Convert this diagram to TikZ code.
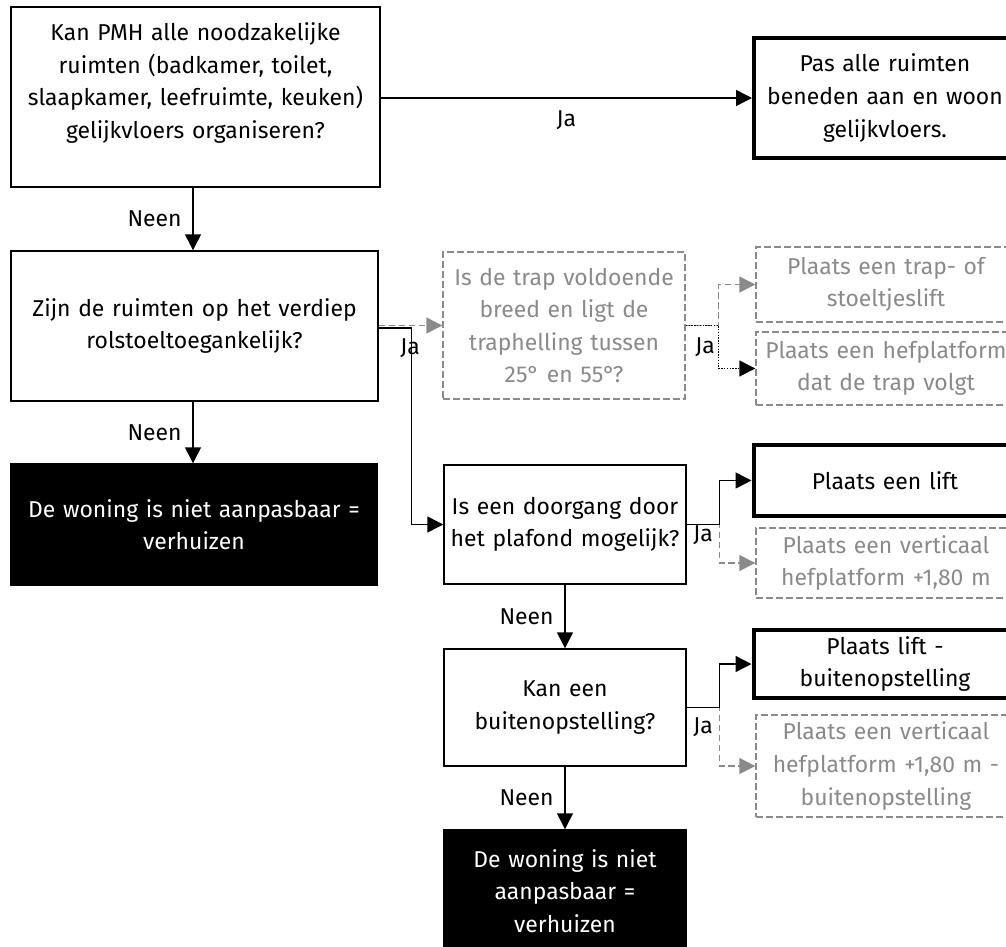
\documentclass[tikz,border=0pt]{standalone}
\usepackage{fontspec}
\setmainfont{Fira Sans}
\usetikzlibrary{arrows.meta}

\definecolor{faded}{HTML}{8A8A8A}

\tikzset{
  box/.style={draw,line width=1.1pt,align=center,inner sep=0pt,
    font=\fontsize{17.2}{24.4}\selectfont},
  stopbox/.style={box,fill=black,text=white},
  endbox/.style={box,line width=3pt},
  ghostbox/.style={box,draw=faded,text=faded,line width=1.1pt,
    dash pattern=on 5pt off 2.5pt},
  link/.style={line width=1.1pt,-{Triangle[length=12pt,width=12pt]}},
  ghostlink/.style={link,draw=faded,dash pattern=on 5pt off 2.5pt,
    -{Triangle[length=12pt,width=12pt,fill=faded]}},
  tag/.style={font=\fontsize{17.2}{20}\selectfont,inner sep=0pt}
}

\begin{document}
\begin{tikzpicture}[x=0.75pt,y=-0.75pt]
      \useasboundingbox (0,0) rectangle (1006,946);

      % questions
      \node[box,minimum width=276.75pt,minimum height=135pt,text width=270pt]
        (ruimten) at (195.5,97) {Kan PMH alle noodzakelijke\\ruimten (badkamer, toilet,\\slaapkamer, leefruimte, keuken)\\gelijkvloers organiseren?\\ \mbox{}};
      \node[box,minimum width=275.25pt,minimum height=112.5pt,text width=270pt]
        (verdiep) at (194.5,326) {Zijn de ruimten op het verdiep\\rolstoeltoegankelijk?};
      \node[ghostbox,minimum width=181.5pt,minimum height=110.25pt,text width=178pt]
        (trap) at (564,325.5) {Is de trap voldoende\\breed en ligt de\\traphelling tussen\\25° en 55°?};
      \node[box,minimum width=181.5pt,minimum height=89.25pt,text width=180pt]
        (plafond) at (565,524.5) {Is een doorgang door\\het plafond mogelijk?};
      \node[box,minimum width=181.5pt,minimum height=87.75pt,text width=178pt]
        (buiten) at (565,707.5) {Kan een\\buitenopstelling?};

      % stop
      \node[stopbox,minimum width=274.5pt,minimum height=90.75pt,text width=270pt]
        (stop1) at (194,524.5) {De woning is niet aanpasbaar =\\verhuizen};
      \node[stopbox,minimum width=182.25pt,minimum height=91.5pt,text width=178pt]
        (stop2) at (565,891) {De woning is niet\\aanpasbaar =\\verhuizen};

      % answers
      \node[endbox,minimum width=196.5pt,minimum height=90pt,text width=190pt]
        (gelijk) at (885,98) {Pas alle ruimten\\beneden aan en woon\\gelijkvloers.};
      \node[ghostbox,minimum width=195pt,minimum height=56.25pt,text width=190pt]
        (traplift) at (886,284.5) {Plaats een trap- of\\stoeltjeslift};
      \node[ghostbox,minimum width=195pt,minimum height=54.75pt,text width=195pt]
        (hef) at (886,368.5) {Plaats een hefplatform\\dat de trap volgt};
      \node[endbox,minimum width=197.25pt,minimum height=53.25pt,text width=190pt]
        (lift) at (885,480.5) {Plaats een lift};
      \node[ghostbox,minimum width=195pt,minimum height=52.5pt,text width=195pt]
        (vert) at (886,563) {Plaats een verticaal\\hefplatform +1,80 m};
      \node[endbox,minimum width=197.25pt,minimum height=51pt,text width=190pt]
        (liftbuiten) at (885,664) {Plaats lift -\\buitenopstelling};
      \node[ghostbox,minimum width=195pt,minimum height=76.5pt,text width=195pt]
        (vertbuiten) at (886,766) {Plaats een verticaal\\hefplatform +1,80 m -\\buitenopstelling};

      % Ja
      \draw[link] (ruimten.east |- gelijk.west) -- node[tag,below=9pt] {Ja} (gelijk.west);
      \draw[ghostlink] (verdiep.east |- trap.west) -- (trap.west);
      \draw[link] ([yshift=-1.5pt]verdiep.east) -- ++(33,0) |- (plafond.west);
      \node[tag] (ja1) at (410,348) {Ja};
      \draw[ghostlink] (trap.east) -- ++(33,0) |- (traplift.west);
      \draw[line width=1.1pt,densely dotted,-{Triangle[length=12pt,width=12pt]}]
        (trap.east) -- ++(33,0) |- (hef.west);
      \node[tag] (ja2) at (705,347) {Ja};
      \draw[ghostlink] (plafond.east) -- ++(33,0) |- (vert.west);
      \draw[link] (plafond.east) -- ++(33,0) |- (lift.west);
      \node[tag] (ja3) at (703,535) {Ja};
      \draw[ghostlink] (buiten.east) -- ++(33,0) |- (vertbuiten.west);
      \draw[link] (buiten.east) -- ++(33,0) |- (liftbuiten.west);
      \node[tag] (ja4) at (703,727) {Ja};

      % Neen
      \draw[link] (ruimten.south -| 193,0) -- node[tag,left=8pt] {Neen} (verdiep.north -| 193,0);
      \draw[link] (verdiep.south -| 193,0) -- node[tag,left=8pt] {Neen} (stop1.north -| 193,0);
      \draw[link] (plafond) -- node[tag,left=8pt] {Neen} (buiten);
      \draw[link] (buiten) -- node[tag,left=8pt] {Neen} (stop2);
    \end{tikzpicture}
\end{document}
